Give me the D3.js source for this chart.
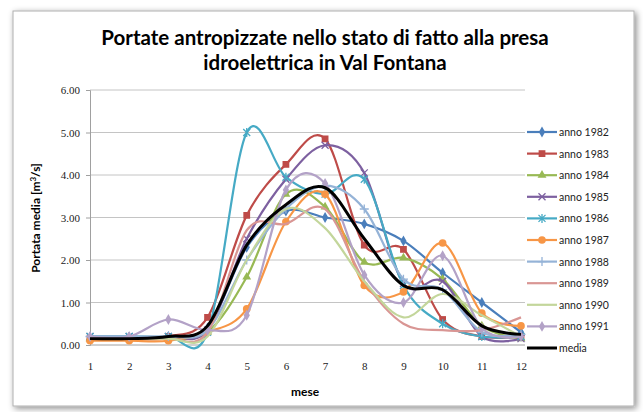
<!DOCTYPE html>
<html>
<head>
<meta charset="utf-8">
<script src="https://cdnjs.cloudflare.com/ajax/libs/d3/7.8.5/d3.min.js"></script>
<style>
  body { margin: 0; background: #fff; }
  svg { display: block; }
</style>
</head>
<body>
<div id="chart"></div>
<script>
// dati: portata media mensile [m3/s]
var mesi = [1, 2, 3, 4, 5, 6, 7, 8, 9, 10, 11, 12];
var anni = ["anno 1982", "anno 1983", "anno 1984", "anno 1985", "anno 1986", "anno 1987",
            "anno 1988", "anno 1989", "anno 1990", "anno 1991", "media"];
var anno1982 = [0.15, 0.15, 0.20, 0.40, 2.30, 3.15, 3.00, 2.85, 2.45, 1.70, 1.00, 0.30];
var anno1983 = [0.15, 0.15, 0.20, 0.65, 3.05, 4.25, 4.85, 2.35, 2.25, 0.60, 0.20, 0.20];
var anno1984 = [0.15, 0.15, 0.15, 0.30, 1.60, 3.55, 3.25, 1.95, 2.05, 1.55, 0.45, 0.15];
var anno1985 = [0.20, 0.20, 0.20, 0.35, 2.50, 3.90, 4.70, 4.05, 1.45, 1.50, 0.20, 0.15];
var anno1986 = [0.20, 0.20, 0.20, 0.30, 5.00, 3.95, 3.55, 3.90, 1.40, 0.50, 0.20, 0.20];
var anno1987 = [0.10, 0.10, 0.10, 0.30, 0.85, 2.90, 3.55, 1.40, 1.25, 2.40, 0.75, 0.45];
var anno1988 = [0.20, 0.20, 0.20, 0.35, 2.00, 3.20, 3.75, 3.20, 1.55, 1.30, 0.30, 0.25];
var anno1989 = [0.15, 0.15, 0.15, 0.30, 2.70, 2.85, 3.20, 1.50, 0.50, 0.35, 0.35, 0.65];
var anno1990 = [0.15, 0.15, 0.15, 0.20, 2.00, 3.20, 2.75, 1.50, 0.65, 1.20, 0.70, 0.20];
var anno1991 = [0.20, 0.20, 0.60, 0.35, 0.70, 3.65, 3.80, 1.65, 1.00, 2.10, 0.40, 0.20];
var media    = [0.15, 0.15, 0.20, 0.45, 2.35, 3.30, 3.70, 2.50, 1.40, 1.30, 0.45, 0.25];
var yTicks = [0, 1, 2, 3, 4, 5, 6];

var valori = [anno1982, anno1983, anno1984, anno1985, anno1986, anno1987,
              anno1988, anno1989, anno1990, anno1991, media];
var colori = ["#4A7EBB", "#BE4B48", "#98B954", "#7D60A0", "#46AAC5", "#F79646",
              "#95B3D7", "#D99694", "#C3D69B", "#B3A2C7", "#000000"];
var marcatori = ["diamond", "square", "triangle", "x", "star", "circle",
                 "plus", "none", "none", "diamond", "none"];

var serie = anni.map(function(n, i) {
  return { nome: n, colore: colori[i], marker: marcatori[i],
           punti: mesi.map(function(m, j) { return { mese: m, v: valori[i][j] }; }) };
});

///////////////////////////////////////////////////////////////////////////
// SVG
///////////////////////////////////////////////////////////////////////////
var W = 643, H = 412;
var svg = d3.select("#chart").append("svg")
  .attr("width", W).attr("height", H);

var defs = svg.append("defs");
var f = defs.append("filter").attr("id", "ombra")
  .attr("x", "-5%").attr("y", "-5%").attr("width", "110%").attr("height", "110%");
f.append("feDropShadow").attr("dx", 2).attr("dy", 2).attr("stdDeviation", 3)
  .attr("flood-color", "#000").attr("flood-opacity", 0.45);

svg.append("rect")
  .attr("x", 13).attr("y", 11).attr("width", 621).attr("height", 395)
  .attr("fill", "#fff").attr("stroke", "#b0b0b0").attr("stroke-width", 1)
  .attr("filter", "url(#ombra)");

var font = "Lato, 'Open Sans', sans-serif";
var fontNum = "'Liberation Serif', 'DejaVu Serif', serif";

// titolo
svg.append("text")
  .attr("x", 325).attr("y", 45)
  .attr("text-anchor", "middle")
  .attr("font-family", font).attr("font-weight", "bold")
  .attr("font-size", "20.5px").attr("fill", "#000")
  .text("Portate antropizzate nello stato di fatto alla presa");
svg.append("text")
  .attr("x", 325).attr("y", 70)
  .attr("text-anchor", "middle")
  .attr("font-family", font).attr("font-weight", "bold")
  .attr("font-size", "20.5px").attr("fill", "#000")
  .text("idroelettrica in Val Fontana");

///////////////////////////////////////////////////////////////////////////
// Scale e assi
///////////////////////////////////////////////////////////////////////////
var x = d3.scaleLinear().domain([1, 12]).range([90, 521]);
var y = d3.scaleLinear().domain([0, 6]).range([345, 90]);

// griglia
svg.append("g")
  .selectAll("line")
  .data(yTicks.slice(1))
  .join("line")
  .attr("x1", 90).attr("x2", 525)
  .attr("y1", function(d) { return y(d); })
  .attr("y2", function(d) { return y(d); })
  .attr("stroke", "#c4c4c4").attr("stroke-width", 1);

var yAxis = svg.append("g")
  .attr("transform", "translate(90,0)")
  .call(d3.axisLeft(y).tickValues(yTicks).tickSize(4).tickPadding(6)
    .tickFormat(d3.format(".2f")));
yAxis.select(".domain").attr("stroke", "#a0a0a0");
yAxis.selectAll(".tick line").attr("stroke", "#a0a0a0");
yAxis.selectAll("text").attr("font-family", fontNum).attr("font-size", "11px").attr("fill", "#222");

var xAxis = svg.append("g")
  .attr("transform", "translate(0,345)")
  .call(d3.axisBottom(x).tickValues(mesi).tickSize(0).tickPadding(17)
    .tickFormat(d3.format("d")));
xAxis.select(".domain").attr("stroke", "#a0a0a0").attr("d", "M90,0H525");
xAxis.selectAll("text").attr("font-family", fontNum).attr("font-size", "11px").attr("fill", "#222");

svg.append("text")
  .attr("x", 305).attr("y", 396)
  .attr("text-anchor", "middle")
  .attr("font-family", font).attr("font-weight", "bold")
  .attr("font-size", "12px")
  .text("mese");

var yt = svg.append("text")
  .attr("transform", "translate(40,218) rotate(-90)")
  .attr("text-anchor", "middle")
  .attr("font-family", font).attr("font-weight", "bold")
  .attr("font-size", "12px");
yt.append("tspan").text("Portata media [m");
yt.append("tspan").attr("font-size", "8px").attr("dy", -4).text("3");
yt.append("tspan").attr("dy", 4).text("/s]");

///////////////////////////////////////////////////////////////////////////
// Linee e marcatori
///////////////////////////////////////////////////////////////////////////
var line = d3.line()
  .x(function(d) { return x(d.mese); })
  .y(function(d) { return y(d.v); })
  .curve(d3.curveCardinal.tension(0));

function disegnaMarker(g, tipo, col) {
  if (tipo === "none") return;
  if (tipo === "x" || tipo === "star" || tipo === "plus") {
    var s = 3.5, p = "";
    if (tipo !== "plus") p += "M" + -s + "," + -s + "L" + s + "," + s + "M" + -s + "," + s + "L" + s + "," + -s;
    if (tipo !== "x") p += "M0," + (-s - 1) + "L0," + (s + 1);
    if (tipo === "plus") p += "M" + (-s - 1) + ",0L" + (s + 1) + ",0";
    g.append("path").attr("d", p).attr("stroke", col).attr("stroke-width", 1.3).attr("fill", "none");
    return;
  }
  var sym = { diamond: d3.symbolDiamond, square: d3.symbolSquare,
              triangle: d3.symbolTriangle, circle: d3.symbolCircle }[tipo];
  var size = { diamond: 34, square: 46, triangle: 34, circle: 46 }[tipo];
  g.append("path").attr("d", d3.symbol().type(sym).size(size)()).attr("fill", col);
}

var gSerie = svg.append("g");
serie.forEach(function(s) {
  var g = gSerie.append("g");
  g.append("path")
    .datum(s.punti)
    .attr("d", line)
    .attr("fill", "none")
    .attr("stroke", s.colore)
    .attr("stroke-width", s.nome === "media" ? 3 : 2.2)
    .attr("stroke-linejoin", "round");
  s.punti.forEach(function(p) {
    var m = g.append("g").attr("transform", "translate(" + x(p.mese) + "," + y(p.v) + ")");
    disegnaMarker(m, s.marker, s.colore);
  });
});

///////////////////////////////////////////////////////////////////////////
// Legenda
///////////////////////////////////////////////////////////////////////////
var leg = svg.append("g");
serie.forEach(function(s, i) {
  var yy = 132 + i * 21.6;
  var g = leg.append("g").attr("transform", "translate(0," + yy + ")");
  g.append("line").attr("x1", 527).attr("x2", 557).attr("y1", 0).attr("y2", 0)
    .attr("stroke", s.colore).attr("stroke-width", s.nome === "media" ? 3 : 2.2);
  var m = g.append("g").attr("transform", "translate(542,0)");
  disegnaMarker(m, s.marker, s.colore);
  g.append("text").attr("x", 559).attr("y", 4)
    .attr("font-family", font).attr("font-size", "10.5px").attr("fill", "#222")
    .text(s.nome);
});
</script>
</body>
</html>
